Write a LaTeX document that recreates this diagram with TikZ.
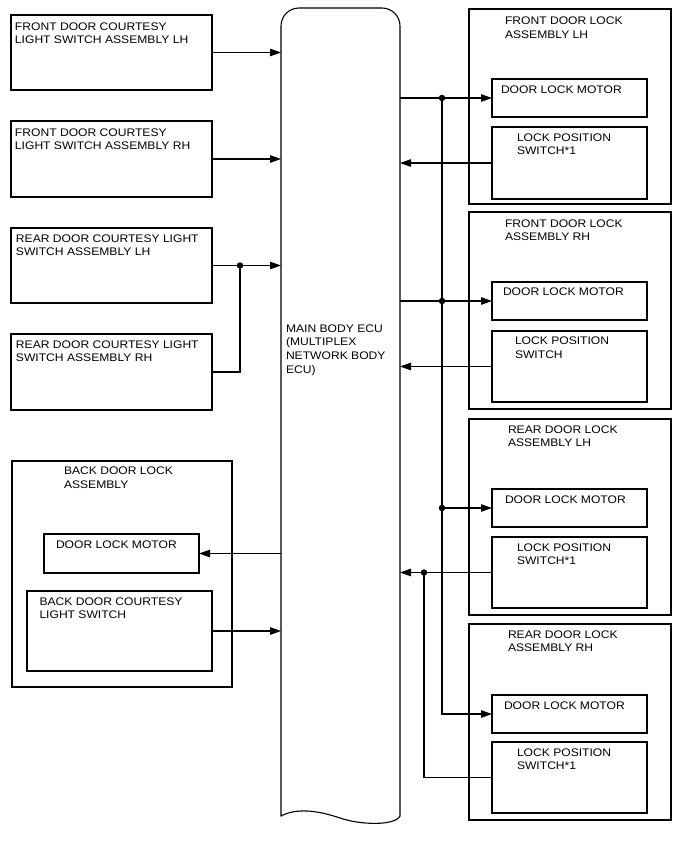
\documentclass[tikz,border=0pt]{standalone}
\usepackage{fontspec}
\setmainfont{Liberation Sans}[FakeStretch=1.1]
\usetikzlibrary{arrows.meta,fit,calc}
\begin{document}
\begin{tikzpicture}[x=1pt,y=-1pt]
\tikzset{
 box/.style={draw, line width=1.1pt, inner sep=0pt, outer sep=0pt, rectangle},
 lbl/.style={inner sep=0pt, outer sep=0pt, anchor=base west, align=left, font=\fontsize{11}{13.7}\selectfont},
 lbltwo/.style={lbl, yshift=-13.7pt},
 lblfour/.style={lbl, yshift=-41.1pt},
 wire/.style={line width=1.1pt},
 arr/.style={wire, -{Triangle[length=11pt,width=7.5pt]}},
 jdot/.style={circle, fill, inner sep=0pt, outer sep=0pt, minimum size=6.5pt}
}
\fill[white] (0,0) rectangle (688,852);
\useasboundingbox (0,0) rectangle (688,852);
% ECU
\node[inner sep=0pt, outer sep=0pt, fit={(281,8)(400,816)}] (ecu) {};
\draw[wire, line cap=round, rounded corners=18pt] (281,816) -- (281,8) -- (400,8) -- (400,816);
\draw[wire, line cap=round] (281,816) .. controls (300,806) and (325,813) .. (340,818) .. controls (360,825) and (395,826) .. (400,816);
\node[lblfour] (tecu) at (286,332) {MAIN BODY ECU\\(MULTIPLEX\\NETWORK BODY\\ECU)};
% left courtesy switches
\node[box, fit={(11,15)(212,90)}] (cfl) {};
\node[lbltwo] (tcfl) at (15,30) {FRONT DOOR COURTESY\\LIGHT SWITCH ASSEMBLY LH};
\node[box, fit={(11,121)(212,197)}] (cfr) {};
\node[lbltwo] (tcfr) at (15,136) {FRONT DOOR COURTESY\\LIGHT SWITCH ASSEMBLY RH};
\node[box, fit={(11,228)(212,303)}] (crl) {};
\node[lbltwo] (tcrl) at (16,242) {REAR DOOR COURTESY LIGHT\\SWITCH ASSEMBLY LH};
\node[box, fit={(11,334)(212,410)}] (crr) {};
\node[lbltwo] (tcrr) at (16,348) {REAR DOOR COURTESY LIGHT\\SWITCH ASSEMBLY RH};
% back door
\node[box, fit={(12,461)(232,687)}] (bd) {};
\node[lbltwo] (tbd) at (64,474.5) {BACK DOOR LOCK\\ASSEMBLY};
\node[box, fit={(44,534)(199,573)}] (bdm) {};
\node[lbl] (tbdm) at (56,548) {DOOR LOCK MOTOR};
\node[box, fit={(27,591)(212,671)}] (bds) {};
\node[lbltwo] (tbds) at (39.5,605) {BACK DOOR COURTESY\\LIGHT SWITCH};
% right: front LH
\node[box, fit={(469,9)(671,204)}] (lfl) {};
\node[lbltwo] (tlfl) at (505,24.5) {FRONT DOOR LOCK\\ASSEMBLY LH};
\node[box, fit={(492,79)(647,117)}] (mfl) {};
\node[lbl] (tmfl) at (501,93.5) {DOOR LOCK MOTOR};
\node[box, fit={(492,127)(647,199)}] (sfl) {};
\node[lbltwo] (tsfl) at (517,141) {LOCK POSITION\\SWITCH*1};
% front RH
\node[box, fit={(469,212)(671,409)}] (lfr) {};
\node[lbltwo] (tlfr) at (505,227) {FRONT DOOR LOCK\\ASSEMBLY RH};
\node[box, fit={(492,282)(647,320)}] (mfr) {};
\node[lbl] (tmfr) at (503,295.5) {DOOR LOCK MOTOR};
\node[box, fit={(492,331)(647,402)}] (sfr) {};
\node[lbltwo] (tsfr) at (515,344.5) {LOCK POSITION\\SWITCH};
% rear LH
\node[box, fit={(469,419)(671,615)}] (lrl) {};
\node[lbltwo] (tlrl) at (508,433) {REAR DOOR LOCK\\ASSEMBLY LH};
\node[box, fit={(492,489)(647,527)}] (mrl) {};
\node[lbl] (tmrl) at (505,503) {DOOR LOCK MOTOR};
\node[box, fit={(492,537)(647,608)}] (srl) {};
\node[lbltwo] (tsrl) at (517,551) {LOCK POSITION\\SWITCH*1};
% rear RH
\node[box, fit={(469,624)(671,820)}] (lrr) {};
\node[lbltwo] (tlrr) at (508,638) {REAR DOOR LOCK\\ASSEMBLY RH};
\node[box, fit={(492,695)(647,733)}] (mrr) {};
\node[lbl] (tmrr) at (504,709) {DOOR LOCK MOTOR};
\node[box, fit={(492,742)(647,813)}] (srr) {};
\node[lbltwo] (tsrr) at (517,756) {LOCK POSITION\\SWITCH*1};
% bus coordinates
\coordinate (jx) at (240,0);
\coordinate (mb) at (442,0);
\coordinate (sb) at (424,0);
% left connectors
\draw[arr] (cfl.east) -- (cfl.east -| ecu.west);
\draw[arr] (cfr.east) -- (cfr.east -| ecu.west);
\draw[arr] (crl.east) -- (crl.east -| ecu.west);
\node[jdot] (j1) at (jx |- crl.east) {};
\draw[wire] (crr.east) -| (j1.center);
\draw[arr] (bdm.east -| ecu.west) -- (bdm.east);
\draw[arr] (bds.east) -- (bds.east -| ecu.west);
% motor bus
\node[jdot] (d1) at (mb |- mfl.west) {};
\node[jdot] (d2) at (mb |- mfr.west) {};
\node[jdot] (d3) at (mb |- mrl.west) {};
\draw[wire] (mfl.west -| ecu.east) -- (d1.center);
\draw[arr] (d1.center) -- (mfl.west);
\draw[wire] (mfr.west -| ecu.east) -- (d2.center);
\draw[arr] (d2.center) -- (mfr.west);
\draw[arr] (d3.center) -- (mrl.west);
\draw[arr] (d1.center) -- (mb |- mrr.west) -- (mrr.west);
% switch lines
\draw[arr] (sfl.west) -- (sfl.west -| ecu.east);
\draw[arr] (sfr.west) -- (sfr.west -| ecu.east);
\draw[arr] (srl.west) -- (srl.west -| ecu.east);
\node[jdot] (d4) at (sb |- srl.west) {};
\draw[wire] (srr.west) -| (d4.center);
\end{tikzpicture}
\end{document}
